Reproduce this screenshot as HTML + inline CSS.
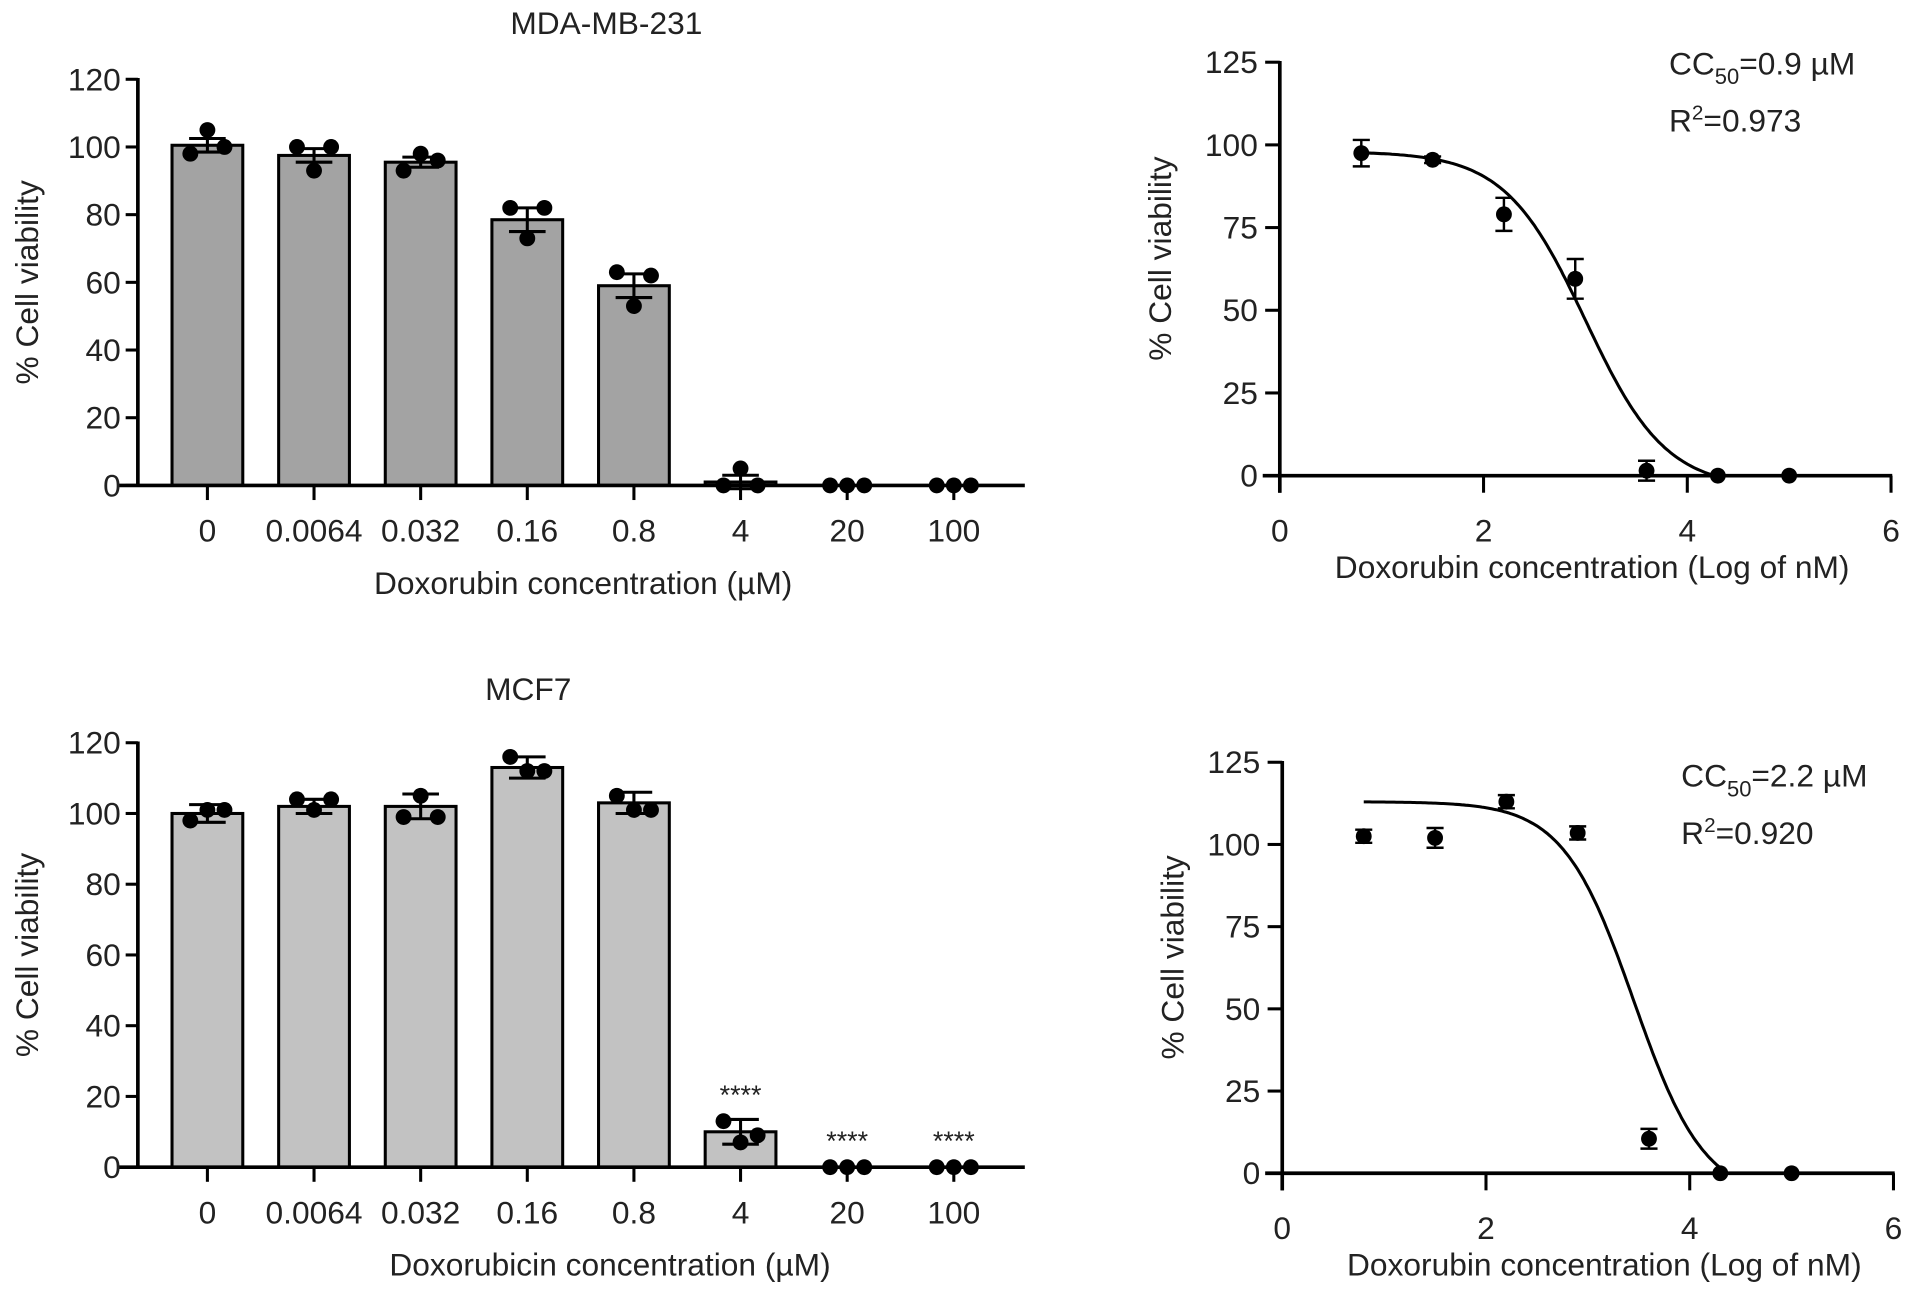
<!DOCTYPE html>
<html><head><meta charset="utf-8"><style>
html,body{margin:0;padding:0;background:#fff;}
svg{display:block;}
text{font-family:"Liberation Sans",Arial,sans-serif;fill:#222;}
</style></head><body>
<svg id="fig" width="1913" height="1294" viewBox="0 0 1568 1061" preserveAspectRatio="none" xmlns="http://www.w3.org/2000/svg"></svg>
<script>
const cats = ["0","0.0064","0.032","0.16","0.8","4","20","100"];
const mdaMeans = [100.5,97.5,95.5,78.5,59,1,0,0];
const mdaErr = [2,2,1.5,3.5,3.5,2,0,0];
const mdaDots = [[98,105,100],[100,93,100],[93,98,96],[82,73,82],[63,53,62],[0,5,0],[0,0,0],[0,0,0]];
const mcfMeans = [100,102,102,113,103,10,0,0];
const mcfErr = [2.5,2,3.5,3,3,3.5,0,0];
const mcfDots = [[98,101,101],[104,101,104],[99,105,99],[116,112,112],[105,101,101],[13,7,9],[0,0,0],[0,0,0]];
const mcfSig = ["","","","","","****","****","****"];
const yTicksBar = [0,20,40,60,80,100,120];
const xTicksLog = [0,2,4,6];
const yTicksLog = [0,25,50,75,100,125];
const mdaLogX = [0.8,1.5,2.2,2.9,3.6,4.3,5];
const mdaLogY = [97.5,95.5,79,59.5,1.5,0,0];
const mdaLogE = [4,1,5,6,3,0,0];
const mcfLogX = [0.8,1.5,2.2,2.9,3.6,4.3,5];
const mcfLogY = [102.5,102,113,103.5,10.5,0,0];
const mcfLogE = [2,3,2,2,3,0,0];
const mdaFit = {top:98,bottom:-4,ic:3.0,hill:1.1};
const mcfFit = {top:113,bottom:-8,ic:3.45,hill:1.25};

const NS="http://www.w3.org/2000/svg";
const svg=document.getElementById('fig');
const FS=26;
function el(tag,attrs,parent){const e=document.createElementNS(NS,tag);for(const k in attrs)e.setAttribute(k,attrs[k]);(parent||svg).appendChild(e);return e;}
function txt(s,x,y,size,anchor,parent){const t=el('text',{x:x,y:y,'font-size':size,'text-anchor':anchor||'middle'},parent);t.textContent=s;return t;}

function barChart(o){
  const g=el('g',{});
  
  
  const y=v=>o.y0+(o.y1-o.y0)*v/120;
  const x=i=>o.x0+i*o.step;
  const tt=txt(o.title,o.titleX,o.titleY,FS,'middle',g);
  
  o.means.forEach((m,i)=>{
    if(m>0.5){const r=el('rect',{x:x(i)-29,y:y(m),width:58,height:y(0)-y(m),fill:o.fill,stroke:'#000','stroke-width':2.5},g);
    }
  });
  o.means.forEach((m,i)=>{
    const e=o.err[i];
    if(e>0){el('line',{x1:x(i),x2:x(i),y1:y(m-e),y2:y(m+e),stroke:'#000','stroke-width':2.5},g);
      el('line',{x1:x(i)-15,x2:x(i)+15,y1:y(m+e),y2:y(m+e),stroke:'#000','stroke-width':2.5},g);
      el('line',{x1:x(i)-15,x2:x(i)+15,y1:y(m-e),y2:y(m-e),stroke:'#000','stroke-width':2.5},g);}
    o.dots[i].forEach((d,j)=>{const c=el('circle',{cx:x(i)+(j-1)*14,cy:y(d),r:6.5,fill:'#000'},g);
      });
    if(o.sig&&o.sig[i]){const s=txt(o.sig[i],x(i),y(o.dots[i].reduce((a,b)=>Math.max(a,b)))-14,22,'middle',g);
      }
  });
  el('line',{x1:o.ax,x2:o.ax,y1:y(120)-1,y2:y(0),stroke:'#000','stroke-width':3},g);
  el('line',{x1:o.ax-17,x2:840,y1:y(0),y2:y(0),stroke:'#000','stroke-width':3},g);
  yTicksBar.forEach(v=>{el('line',{x1:o.ax-10,x2:o.ax,y1:y(v),y2:y(v),stroke:'#000','stroke-width':2.5},g);
    txt(String(v),o.ax-14,y(v)+9,FS,'end',g);});
  o.cats.forEach((c,i)=>{el('line',{x1:x(i),x2:x(i),y1:y(0),y2:y(0)+12,stroke:'#000','stroke-width':2.5},g);
    txt(c,x(i),y(0)+46,FS,'middle',g);});
  const xt=txt(o.xtitle,o.xtX,y(0)+89,FS,'middle',g);
  
  const yt=txt('% Cell viability',0,0,FS,'middle',g);
  yt.setAttribute('transform','translate(31,'+((y(0)+y(120))/2)+') rotate(-90)');
  
}

function logChart(o){
  const g=el('g',{});
  
  
  const X=v=>o.x0+(o.x6-o.x0)*v/6;
  const Y=v=>o.y0+(o.y125-o.y0)*v/125;
  el('line',{x1:X(0),x2:X(0),y1:Y(125)-1,y2:Y(0)+14,stroke:'#000','stroke-width':3},g);
  el('line',{x1:X(0)-14,x2:X(6)+1,y1:Y(0),y2:Y(0),stroke:'#000','stroke-width':3},g);
  yTicksLog.forEach(v=>{el('line',{x1:X(0)-12,x2:X(0),y1:Y(v),y2:Y(v),stroke:'#000','stroke-width':2.5},g);
    txt(String(v),X(0)-18,Y(v)+9,FS,'end',g);});
  xTicksLog.forEach(v=>{el('line',{x1:X(v),x2:X(v),y1:Y(0),y2:Y(0)+14,stroke:'#000','stroke-width':2.5},g);
    txt(String(v),X(v),Y(0)+54,FS,'middle',g);});
  const f=o.fit;let d='';
  for(let v=o.xs[0];v<=4.5;v+=0.02){let yy=f.bottom+(f.top-f.bottom)/(1+Math.pow(10,(v-f.ic)*f.hill));
    if(yy<0)yy=0;d+=(d?'L':'M')+X(v).toFixed(1)+','+Y(yy).toFixed(1);}
  const p=el('path',{d:d,fill:'none',stroke:'#000','stroke-width':2.5},g);
  
  o.xs.forEach((xv,i)=>{const m=o.ys[i],e=o.es[i];
    if(e>0){el('line',{x1:X(xv),x2:X(xv),y1:Y(m-e),y2:Y(m+e),stroke:'#000','stroke-width':2},g);
      el('line',{x1:X(xv)-7,x2:X(xv)+7,y1:Y(m+e),y2:Y(m+e),stroke:'#000','stroke-width':2},g);
      el('line',{x1:X(xv)-7,x2:X(xv)+7,y1:Y(m-e),y2:Y(m-e),stroke:'#000','stroke-width':2},g);}
    const c=el('circle',{cx:X(xv),cy:Y(m),r:6.5,fill:'#000'},g);
    });
  const xt=txt('Doxorubin concentration (Log of nM)',o.xtX,Y(0)+84,FS,'middle',g);
  
  const yt=txt('% Cell viability',0,0,FS,'middle',g);
  yt.setAttribute('transform','translate('+o.ytX+','+o.ytY+') rotate(-90)');
  
  const a=el('text',{x:o.annX,y:o.annY,'font-size':FS},g);
  
  a.innerHTML='CC<tspan font-size="18" dy="8">50</tspan><tspan dy="-8">='+o.cc+' \u00b5M</tspan>';
  const r=el('text',{x:o.annX,y:o.annY+47,'font-size':FS},g);
  
  r.innerHTML='R<tspan font-size="17" dy="-10">2</tspan><tspan dy="10">='+o.r2+'</tspan>';
}

barChart({name:'mda-bar-chart',title:'MDA-MB-231',titleX:497,titleY:28,means:mdaMeans,err:mdaErr,dots:mdaDots,cats:cats,
  y0:398,y1:65,x0:170,step:87.4,ax:113,fill:'#a3a3a3',xtitle:'Doxorubin concentration (\u00b5M)',xtX:478});
barChart({name:'mcf7-bar-chart',title:'MCF7',titleX:433,titleY:574,means:mcfMeans,err:mcfErr,dots:mcfDots,cats:cats,sig:mcfSig,
  y0:957,y1:609,x0:170,step:87.4,ax:113,fill:'#c2c2c2',xtitle:'Doxorubicin concentration (\u00b5M)',xtX:500});
logChart({name:'mda-dose-response',x0:1049,x6:1550,y0:390,y125:51,xs:mdaLogX,ys:mdaLogY,es:mdaLogE,fit:mdaFit,
  xtX:1305,ytX:960,ytY:212,annX:1368,annY:61,cc:'0.9',r2:'0.973'});
logChart({name:'mcf7-dose-response',x0:1051,x6:1552,y0:962,y125:625,xs:mcfLogX,ys:mcfLogY,es:mcfLogE,fit:mcfFit,
  xtX:1315,ytX:970,ytY:785,annX:1378,annY:645,cc:'2.2',r2:'0.920'});
</script>
</body></html>
